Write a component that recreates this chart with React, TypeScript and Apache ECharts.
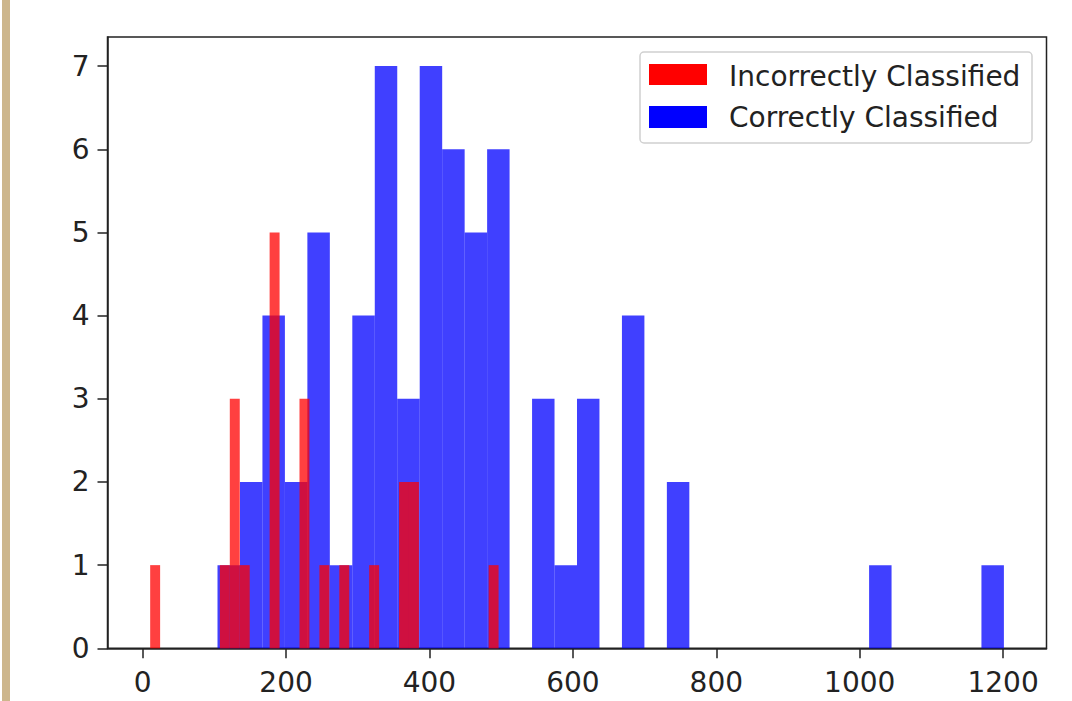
import React, { useEffect, useRef } from "react";
import * as echarts from "echarts";

// Tick labels
const xTicks = [0, 200, 400, 600, 800, 1000, 1200];
const yTicks = [0, 1, 2, 3, 4, 5, 6, 7];

// Series names
const seriesNames = ["Incorrectly Classified", "Correctly Classified"];

// Histogram counts (35 bins each)
const redCounts = [1, 0, 0, 0, 0, 0, 0, 1, 3, 1, 0, 0, 5, 0, 0, 3, 0, 1, 0, 1, 0, 0, 1, 0, 0, 2, 2, 0, 0, 0, 0, 0, 0, 0, 1];
const blueCounts = [1, 2, 4, 2, 5, 1, 4, 7, 3, 7, 6, 5, 6, 0, 3, 1, 3, 0, 4, 0, 2, 0, 0, 0, 0, 0, 0, 0, 0, 1, 0, 0, 0, 0, 1];

// Histogram ranges (first bin left edge, last bin right edge)
const redRange = [10.5, 496.4];
const blueRange = [104.4, 1201.1];

const FONT = "DejaVu Sans";

function binData(counts: number[], range: number[]) {
  const w = (range[1] - range[0]) / counts.length;
  return counts.map((c, i) => [range[0] + i * w, range[0] + (i + 1) * w, c]);
}

function makeRender(fill: string) {
  return (params: any, api: any) => {
    const x0 = api.value(0);
    const x1 = api.value(1);
    const v = api.value(2);
    if (!v) return null;
    const p0 = api.coord([x0, 0]);
    const p1 = api.coord([x1, v]);
    return {
      type: "rect",
      shape: { x: p0[0], y: p1[1], width: p1[0] - p0[0], height: p0[1] - p1[1] },
      style: { fill },
    };
  };
}

export default function App() {
  const ref = useRef<HTMLDivElement>(null);
  useEffect(() => {
    if (!ref.current) return;
    const chart = echarts.init(ref.current, null, { renderer: "svg" });
    const axisColor = "#222";
    chart.setOption({
      animation: false,
      backgroundColor: "#fff",
      grid: {
        left: 107.5,
        right: 25.5,
        top: 37,
        bottom: 52.7,
        show: true,
        borderColor: axisColor,
        borderWidth: 1.5,
        backgroundColor: "transparent",
      },
      xAxis: {
        type: "value",
        min: -49,
        max: 1260.5,
        splitLine: { show: false },
        axisLine: { show: true, onZero: false, lineStyle: { color: axisColor, width: 1.5 } },
        axisTick: { show: true, length: 10, customValues: xTicks, lineStyle: { color: axisColor, width: 1.5 } },
        axisLabel: {
          customValues: xTicks,
          formatter: (v: number) => String(v),
          fontSize: 28,
          fontFamily: FONT,
          color: "#222",
          margin: 20,
        },
      },
      yAxis: {
        type: "value",
        min: 0,
        max: 7.35,
        splitLine: { show: false },
        axisLine: { show: true, onZero: false, lineStyle: { color: axisColor, width: 1.5 } },
        axisTick: { show: true, length: 10, customValues: yTicks, lineStyle: { color: axisColor, width: 1.5 } },
        axisLabel: {
          customValues: yTicks,
          formatter: (v: number) => String(v),
          fontSize: 28,
          fontFamily: FONT,
          color: "#222",
          margin: 18,
        },
      },
      series: [
        {
          name: seriesNames[1],
          type: "custom",
          renderItem: makeRender("rgba(0,0,255,0.75)"),
          encode: { x: [0, 1], y: 2 },
          data: binData(blueCounts, blueRange),
        },
        {
          name: seriesNames[0],
          type: "custom",
          renderItem: makeRender("rgba(255,0,0,0.75)"),
          encode: { x: [0, 1], y: 2 },
          data: binData(redCounts, redRange),
        },
      ],
      graphic: [
        { type: "rect", left: 2, top: 0, shape: { width: 8, height: 701 }, style: { fill: "#cdb68c" } },
        {
          type: "rect",
          shape: { x: 640, y: 52, width: 392, height: 91, r: 4 },
          style: { fill: "rgba(255,255,255,0.8)", stroke: "#d0d0d0", lineWidth: 1.5 },
          z: 10,
        },
        { type: "rect", shape: { x: 649, y: 64, width: 58, height: 21 }, style: { fill: "#ff0000" }, z: 11 },
        { type: "rect", shape: { x: 649, y: 106, width: 58, height: 22 }, style: { fill: "#0000ff" }, z: 11 },
        {
          type: "text",
          x: 729,
          y: 76,
          style: { text: seriesNames[0], fontSize: 28, fontFamily: FONT, fill: "#222", verticalAlign: "middle" },
          z: 11,
        },
        {
          type: "text",
          x: 729,
          y: 117,
          style: { text: seriesNames[1], fontSize: 28, fontFamily: FONT, fill: "#222", verticalAlign: "middle" },
          z: 11,
        },
      ],
    });
    return () => chart.dispose();
  }, []);
  return (
    <div
      ref={ref}
      style={{ position: "fixed", left: 0, top: 0, width: 1072, height: 701, background: "#fff" }}
    />
  );
}
